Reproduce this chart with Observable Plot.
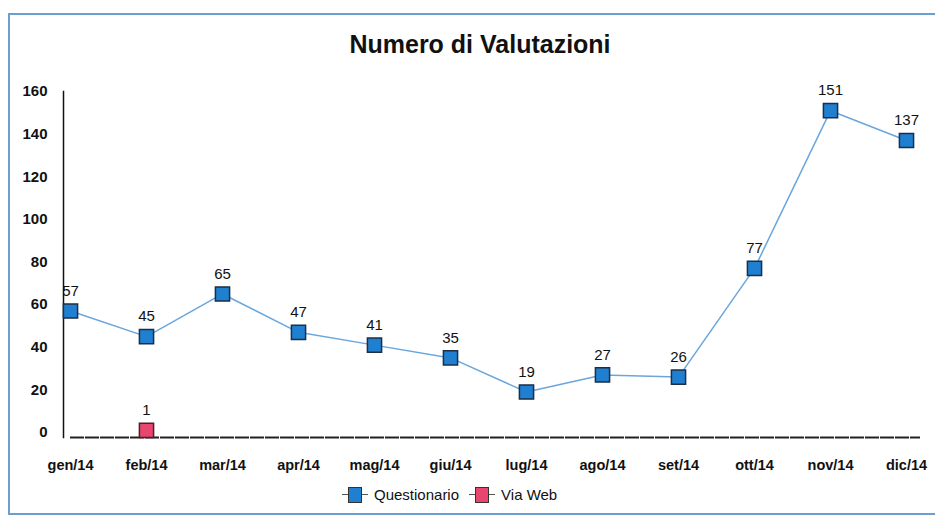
<!DOCTYPE html>
<html>
<head>
<meta charset="utf-8">
<script src="https://cdn.jsdelivr.net/npm/d3@7"></script>
<script src="https://cdn.jsdelivr.net/npm/@observablehq/plot@0.6"></script>
<style>
  html, body { margin: 0; padding: 0; background: #fff; }
  #wrap { position: relative; width: 935px; height: 519px; overflow: hidden; font-family: "Liberation Sans", Arial, sans-serif; }
  #border { position: absolute; left: 8px; top: 13px; width: 940px; height: 502px; border: 2px solid #6c9fd0; box-sizing: border-box; }
  #title { position: absolute; left: 0; width: 960px; top: 30px; text-align: center; font-weight: bold; font-size: 25px; color: #111; }
  #chart { position: absolute; left: 0; top: 0; }
  #legend { position: absolute; top: 486px; left: 342px; display: flex; align-items: center; font-size: 15px; color: #111; }
  .sw { display: inline-block; width: 14px; height: 16px; border: 1.5px solid #333; box-sizing: border-box; }
  .ln { display: inline-block; width: 6px; border-top: 1px dashed #555; }
</style>
</head>
<body>
<div id="wrap">
  <div id="border"></div>
  <div id="chart"></div>
  <div id="title">Numero di Valutazioni</div>
  <div id="legend"></div>
</div>
<script>
const months = ["gen/14","feb/14","mar/14","apr/14","mag/14","giu/14","lug/14","ago/14","set/14","ott/14","nov/14","dic/14"];
const questionario = [57,45,65,47,41,35,19,27,26,77,151,137];
const viaWebMonths = ["feb/14"];
const viaWeb = [1];
const yTicks = [0,20,40,60,80,100,120,140,160];
const seriesNames = ["Questionario","Via Web"];
const colors = ["#1f7fd0","#e8456f"];

const q = months.map((m,i) => ({month: m, value: questionario[i]}));
const w = viaWebMonths.map((m,i) => ({month: m, value: viaWeb[i]}));

const plot = Plot.plot({
  width: 935,
  height: 519,
  marginLeft: 63,
  marginRight: 10,
  marginTop: 91,
  marginBottom: 82,
  style: {fontFamily: "'Liberation Sans', Arial, sans-serif", background: "transparent"},
  x: {type: "point", domain: months, range: [69, 906], padding: 0},
  y: {domain: [0,160], range: [432, 91]},
  marks: [
    Plot.frame({anchor: "left", stroke: "#111", strokeWidth: 1.5}),
    Plot.ruleY([0], {x1: () => months[0], x2: () => months[months.length-1], dy: 5, stroke: "#222", strokeWidth: 2, strokeDasharray: "14,1", insetRight: -14}),
    Plot.axisY({ticks: yTicks, tickSize: 0, tickPadding: 16, fontWeight: "bold", fontSize: 15, fill: "#111", label: null}),
    Plot.axisX({tickSize: 0, tickPadding: 22, fontWeight: "bold", fontSize: 14.5, fill: "#111", label: null}),
    Plot.line(q, {x: "month", y: "value", stroke: "#6aa6dc", strokeWidth: 1.5}),
    Plot.dot(q, {x: "month", y: "value", symbol: "square", r: 8, fill: colors[0], stroke: "#1c2f45", strokeWidth: 1.5}),
    Plot.text(q, {x: "month", y: "value", text: "value", dy: -20, fontSize: 15, fill: "#111"}),
    Plot.dot(w, {x: "month", y: "value", symbol: "square", r: 8, fill: colors[1], stroke: "#4a2030", strokeWidth: 1.5}),
    Plot.text(w, {x: "month", y: "value", text: "value", dy: -20, fontSize: 15, fill: "#111"})
  ]
});
document.getElementById("chart").appendChild(plot);

const leg = document.getElementById("legend");
seriesNames.forEach((n,i) => {
  const item = document.createElement("span");
  item.style.display = "inline-flex";
  item.style.alignItems = "center";
  item.style.marginRight = "10px";
  item.innerHTML = `<span class="ln"></span><span class="sw" style="background:${colors[i]}"></span><span class="ln"></span><span style="margin-left:6px">${n}</span>`;
  leg.appendChild(item);
});
</script>
</body>
</html>
